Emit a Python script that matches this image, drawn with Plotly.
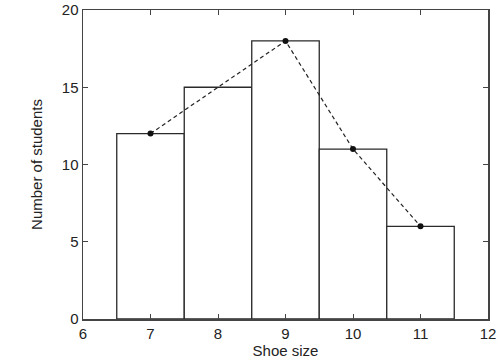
import plotly.graph_objects as go

shoe_sizes = [7, 8, 9, 10, 11]
students = [12, 15, 18, 11, 6]
poly_x = [7, 9, 10, 11]
poly_y = [12, 18, 11, 6]
x_ticks = [6, 7, 8, 9, 10, 11, 12]
y_ticks = [0, 5, 10, 15, 20]

FONT = "Liberation Sans, Arial, sans-serif"

fig = go.Figure()
fig.add_trace(go.Bar(
    x=shoe_sizes, y=students, width=1,
    marker=dict(color="white", line=dict(color="#2a2a2a", width=1.3)),
    showlegend=False,
))
fig.add_trace(go.Scatter(
    x=poly_x, y=poly_y, mode="lines+markers",
    line=dict(color="#222", width=1.2, dash="4px,3px"),
    marker=dict(color="#111", size=6),
    showlegend=False,
))

axis_common = dict(
    showline=True, linecolor="#444", linewidth=1.5, mirror="ticks",
    ticks="inside", ticklen=5, tickcolor="#444", tickwidth=1,
    showgrid=False, zeroline=False, automargin=False,
    tickfont=dict(family=FONT, size=15, color="#222"),
)
fig.update_xaxes(range=[6, 12], tickvals=x_ticks, **axis_common,
                 title=dict(text="Shoe size", standoff=4, font=dict(family=FONT, size=15, color="#222")))
fig.update_yaxes(range=[0, 20], tickvals=y_ticks, **axis_common,
                 title=dict(text="Number of students", font=dict(family=FONT, size=15, color="#222")))
fig.update_layout(
    width=500, height=363, autosize=False,
    margin=dict(l=83, r=12, t=10, b=44, pad=0),
    plot_bgcolor="white", paper_bgcolor="white",
    bargap=0,
)
fig.write_html("out.html", config={"displayModeBar": False, "staticPlot": True},
               post_script="document.body.style.margin='0';document.body.style.overflow='hidden';")
